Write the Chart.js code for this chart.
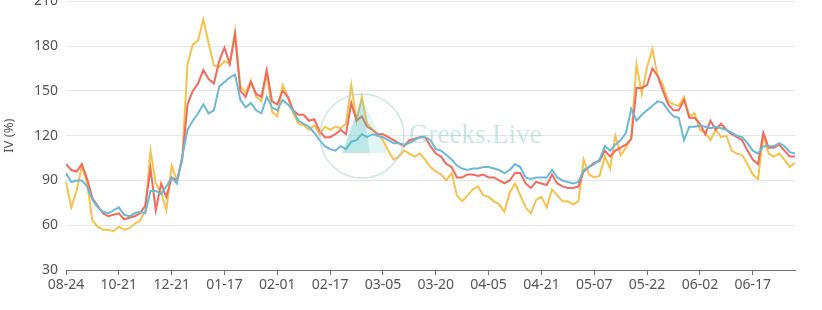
<!DOCTYPE html>
<html>
<head>
<meta charset="utf-8">
<script src="https://cdn.jsdelivr.net/npm/chart.js@4.4.1/dist/chart.umd.min.js"></script>
<style>
  html, body { margin: 0; padding: 0; background: #fff; overflow: hidden; }
  #wrap { position: absolute; left: 0; top: -15px; width: 822px; height: 325px; }
</style>
</head>
<body>
<div id="wrap"><canvas id="ivChart"></canvas></div>
<script>
// etiquetas del eje x (una cada 10 puntos)
const dateLabels = ['08-24', '10-21', '12-21', '01-17', '02-01', '02-17', '03-05',
                    '03-20', '04-05', '04-21', '05-07', '05-22', '06-02', '06-17'];
const pointsPerLabel = 10;
const yTicks = [30, 60, 90, 120, 150, 180, 210];

// series de IV (%)
const yellowIV = [
  89, 72, 83, 100, 88, 63, 59, 57, 57, 56,
  59, 57, 58, 61, 63, 70, 110, 88, 82, 70,
  100, 90, 105, 168, 181, 184, 198, 182, 167, 166,
  170, 168, 190, 153, 149, 157, 146, 143, 162, 136,
  133, 154, 146, 135, 128, 127, 124, 127, 121, 126,
  124, 126, 125, 128, 154, 130, 146, 128, 124, 121,
  117, 110, 104, 106, 110, 108, 106, 108, 104, 99,
  96, 94, 90, 95, 80, 76, 80, 84, 86, 80,
  79, 76, 74, 69, 82, 88, 80, 72, 68, 77,
  79, 72, 84, 80, 76, 76, 74, 76, 104, 94,
  92, 93, 106, 98, 120, 107, 112, 118, 168, 148,
  166, 178, 160, 154, 143, 141, 140, 146, 133, 135,
  124, 122, 117, 124, 119, 120, 110, 108, 107, 101,
  94, 91, 120, 108, 106, 108, 104, 99, 102
];
const redIV = [
  101, 97, 96, 101, 91, 78, 73, 68, 66, 67,
  68, 64, 65, 66, 68, 73, 98, 70, 88, 79,
  92, 90, 104, 141, 150, 155, 164, 158, 155, 170,
  179, 168, 188, 150, 146, 156, 148, 146, 164, 143,
  141, 150, 146, 137, 134, 134, 130, 131, 123, 119,
  119, 121, 124, 121, 142, 130, 133, 126, 124, 121,
  121, 119, 117, 115, 113, 117, 118, 119, 119, 113,
  108, 106, 101, 99, 92, 92, 94, 94, 93, 94,
  92, 92, 90, 88, 90, 95, 95, 88, 85, 89,
  88, 87, 94, 88, 86, 85, 85, 86, 96, 99,
  102, 103, 110, 106, 110, 112, 114, 118, 152, 152,
  154, 165, 160, 150, 141, 137, 137, 144, 132, 132,
  128, 121, 130, 124, 128, 124, 121, 119, 117, 110,
  104, 101, 122, 112, 112, 114, 110, 106, 106
];
const blueIV = [
  95, 89, 90, 90, 86, 77, 72, 69, 68, 70,
  72, 67, 66, 68, 69, 68, 83, 83, 81, 86,
  92, 88, 106, 124, 130, 135, 141, 135, 137, 153,
  156, 159, 161, 144, 139, 142, 137, 135, 146, 139,
  137, 144, 141, 137, 130, 128, 126, 122, 117, 113,
  111, 110, 113, 111, 116, 117, 121, 119, 121, 120,
  119, 117, 115, 115, 114, 115, 117, 119, 119, 117,
  111, 110, 107, 104, 100, 98, 97, 98, 98, 99,
  99, 98, 97, 95, 97, 101, 99, 92, 91, 92,
  92, 92, 97, 92, 90, 89, 88, 89, 97, 99,
  101, 104, 113, 110, 114, 117, 122, 138, 130, 134,
  137, 140, 143, 142, 137, 133, 132, 117, 126, 126,
  127, 126, 125, 126, 125, 124, 122, 120, 119, 115,
  110, 108, 113, 113, 113, 115, 113, 109, 108
];

const toPoints = arr => arr.map((v, i) => ({ x: i, y: v }));

// marca de agua "Greeks.Live" (coordenadas del canvas, desplazado 15px)
const watermark = {
  id: 'watermark',
  afterDatasetsDraw(chart) {
    const ctx = chart.ctx;
    ctx.save();
    ctx.strokeStyle = 'rgba(160, 205, 210, 0.55)';
    ctx.lineWidth = 1.5;
    ctx.beginPath();
    ctx.arc(362, 151, 42, 0, Math.PI * 2);
    ctx.stroke();

    ctx.fillStyle = 'rgba(70, 190, 190, 0.35)';
    ctx.beginPath();
    ctx.moveTo(362, 113);
    ctx.lineTo(342, 168);
    ctx.lineTo(370, 168);
    ctx.closePath();
    ctx.fill();
    ctx.fillStyle = 'rgba(120, 210, 210, 0.22)';
    ctx.beginPath();
    ctx.moveTo(362, 113);
    ctx.lineTo(370, 168);
    ctx.lineTo(388, 168);
    ctx.closePath();
    ctx.fill();

    ctx.fillStyle = 'rgba(140, 200, 200, 0.45)';
    ctx.font = '27px "Liberation Serif", serif';
    ctx.textBaseline = 'alphabetic';
    ctx.fillText('Greeks.Live', 409, 158);
    ctx.restore();
  }
};

new Chart(document.getElementById('ivChart'), {
  type: 'line',
  data: {
    datasets: [
      { data: toPoints(blueIV), borderColor: '#6cb8d6' },
      { data: toPoints(redIV), borderColor: '#ef6b5e' },
      { data: toPoints(yellowIV), borderColor: '#f4c24d' }
    ]
  },
  options: {
    responsive: true,
    maintainAspectRatio: false,
    animation: false,
    layout: { padding: { left: 0, right: 27, top: 0, bottom: 0 } },
    elements: {
      point: { radius: 0 },
      line: { borderWidth: 2, tension: 0 }
    },
    plugins: {
      legend: { display: false },
      tooltip: { enabled: false }
    },
    scales: {
      x: {
        type: 'linear',
        min: 0,
        max: yellowIV.length - 1,
        afterFit: s => { s.height = 40; },
        border: { display: true, color: '#6e7079' },
        grid: { drawOnChartArea: false, drawTicks: true, tickLength: 5, color: '#6e7079' },
        ticks: {
          stepSize: pointsPerLabel,
          includeBounds: false,
          autoSkip: false,
          maxRotation: 0,
          padding: 2,
          color: '#555',
          font: { family: '"Noto Sans", sans-serif', size: 14 },
          callback: v => dateLabels[v / pointsPerLabel] || ''
        }
      },
      y: {
        min: yTicks[0],
        max: yTicks[yTicks.length - 1],
        afterFit: s => { s.width = 66; },
        border: { display: false },
        grid: { color: '#e6e6e6', drawTicks: false },
        ticks: {
          stepSize: 30,
          padding: 8,
          color: '#555',
          font: { family: '"Noto Sans", sans-serif', size: 14 }
        },
        title: {
          display: true,
          text: 'IV (%)',
          color: '#555',
          font: { family: '"Noto Sans", sans-serif', size: 13 },
          padding: { top: 1, bottom: 0 }
        }
      }
    }
  },
  plugins: [watermark]
});
</script>
</body>
</html>
